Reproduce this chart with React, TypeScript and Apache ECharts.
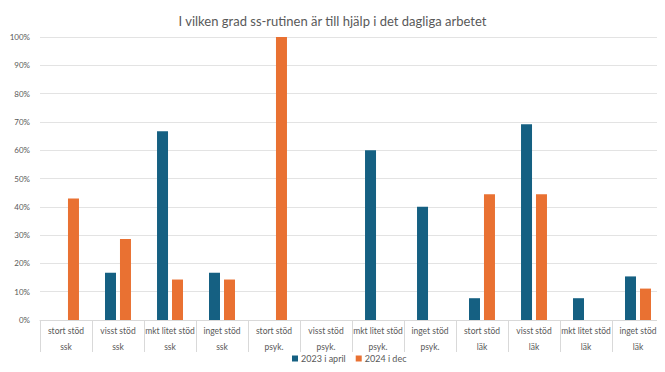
import React, { useEffect, useRef } from "react";
import * as echarts from "echarts";

const categories = [
  "stort stöd\nssk", "visst stöd\nssk", "mkt litet stöd\nssk", "inget stöd\nssk",
  "stort stöd\npsyk.", "visst stöd\npsyk.", "mkt litet stöd\npsyk.", "inget stöd\npsyk.",
  "stort stöd\nläk", "visst stöd\nläk", "mkt litet stöd\nläk", "inget stöd\nläk",
];
const series2023 = [0, 16.7, 66.7, 16.7, 0, 0, 60, 40, 7.7, 69.2, 7.7, 15.4];
const series2024 = [42.9, 28.6, 14.3, 14.3, 100, 0, 0, 0, 44.4, 44.4, 0, 11.1];
const seriesNames = ["2023 i april", "2024 i dec"];
const title = "I vilken grad ss-rutinen är till hjälp i det dagliga arbetet";

export default function App() {
  const ref = useRef<HTMLDivElement>(null);
  useEffect(() => {
    if (!ref.current) return;
    const chart = echarts.init(ref.current, null, { renderer: "svg" });
    const font = "Lato, 'Open Sans', sans-serif";
    chart.setOption({
      animation: false,
      textStyle: { fontFamily: font },
      title: {
        text: title,
        left: "center",
        top: 9,
        textStyle: { fontSize: 13, fontWeight: "normal", color: "#595959", fontFamily: font },
      },
      legend: {
        data: seriesNames,
        top: 354,
        left: 292,
        padding: 0,
        itemWidth: 6,
        itemHeight: 6,
        itemGap: 10,
        icon: "rect",
        textStyle: { fontSize: 9, color: "#595959", fontFamily: font, padding: [0, 0, 0, -2] },
      },
      grid: { left: 40, right: 1, top: 37, bottom: 52, containLabel: false },
      xAxis: {
        type: "category",
        data: categories,
        axisLine: { lineStyle: { color: "#d9d9d9" } },
        axisTick: { show: true, length: 32, interval: 0, lineStyle: { color: "#d9d9d9" } },
        axisLabel: {
          interval: 0,
          fontSize: 8.5,
          color: "#595959",
          lineHeight: 16,
          margin: 3,
          fontFamily: font,
        },
      },
      yAxis: {
        type: "value",
        min: 0,
        max: 100,
        interval: 10,
        axisLabel: { formatter: "{value}%", fontSize: 8, color: "#595959", margin: 10, fontFamily: font },
        splitLine: { lineStyle: { color: "#e3e3e3" } },
        axisLine: { show: false },
        axisTick: { show: false },
      },
      series: [
        {
          name: seriesNames[0],
          type: "bar",
          data: series2023,
          barWidth: 11,
          barGap: "36%",
          itemStyle: { color: "#156082" },
        },
        {
          name: seriesNames[1],
          type: "bar",
          data: series2024,
          barWidth: 11,
          barGap: "36%",
          itemStyle: { color: "#E97132" },
        },
      ],
    });
    return () => chart.dispose();
  }, []);
  return <div ref={ref} style={{ width: 665, height: 372, margin: -8 }} />;
}
